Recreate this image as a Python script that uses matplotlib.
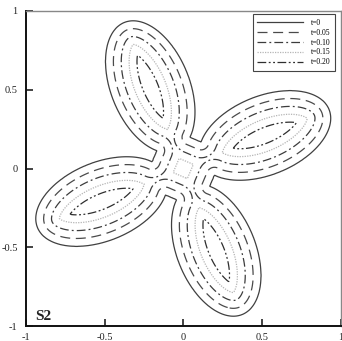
import numpy as np
import matplotlib
matplotlib.use("Agg")
import matplotlib.pyplot as plt
from matplotlib.lines import Line2D

# interface positions at these times (front moves inward at unit speed)
times = [0.0, 0.05, 0.10, 0.15, 0.20]
labels = ["t=0", "t=0.05", "t=0.10", "t=0.15", "t=0.20"]
styles = ["-", (0, (8, 4.5)), (0, (7, 2.5, 1.5, 2.5)), (0, (1, 1)), (0, (7, 2, 1.5, 2, 1.5, 2))]
colors = ["#404040", "#4a4a4a", "#3c3c3c", "#b5b5b5", "#2e2e2e"]

# initial shape: four elliptic petals joined by a square hub
petal_angles = [22, 112, 202, 292]
petal_center = 0.56
petal_semi_long = 0.44
petal_semi_short = 0.25
hub_half = 0.199   # distance from centre to hub side

ticks = [-1, -0.5, 0, 0.5, 1]
tick_labels = ["-1", "-0.5", "0", "0.5", "1"]


def to_frame(x, y, ang):
    c, s = np.cos(np.radians(ang)), np.sin(np.radians(ang))
    return x * c + y * s, -x * s + y * c


def in_petal(x, y, ang):
    s, p = to_frame(x, y, ang)
    return ((s - petal_center) / petal_semi_long) ** 2 + (p / petal_semi_short) ** 2 < 1


def in_hub(x, y):
    s, p = to_frame(x, y, petal_angles[0])
    return np.abs(s) + np.abs(p) < hub_half * np.sqrt(2)


def in_shape(x, y):
    m = in_hub(x, y)
    for ang in petal_angles:
        m = m | in_petal(x, y, ang)
    return m


def boundary_points():
    t = np.linspace(0, 2 * np.pi, 1600, endpoint=False)
    pts = []
    for ang in petal_angles:
        s = petal_center + petal_semi_long * np.cos(t)
        p = petal_semi_short * np.sin(t)
        c, sn = np.cos(np.radians(ang)), np.sin(np.radians(ang))
        x = s * c - p * sn
        y = s * sn + p * c
        keep = ~in_hub(x, y)
        for other in petal_angles:
            if other != ang:
                keep &= ~in_petal(x, y, other)
        pts.append(np.column_stack([x[keep], y[keep]]))
    # hub outline
    r = hub_half * np.sqrt(2)
    u = np.linspace(-1, 1, 200)
    s = np.concatenate([r * (1 - np.abs(u)), -r * (1 - np.abs(u))])
    p = np.concatenate([r * u, r * u])
    c, sn = np.cos(np.radians(petal_angles[0])), np.sin(np.radians(petal_angles[0]))
    x = s * c - p * sn
    y = s * sn + p * c
    keep = np.ones_like(x, dtype=bool)
    for ang in petal_angles:
        keep &= ~in_petal(x, y, ang)
    pts.append(np.column_stack([x[keep], y[keep]]))
    return np.vstack(pts)


def signed_distance(X, Y, bnd):
    g = np.column_stack([X.ravel(), Y.ravel()])
    d = np.empty(len(g))
    step = 4000
    for i in range(0, len(g), step):
        diff = g[i:i + step, None, :] - bnd[None, :, :]
        d[i:i + step] = np.sqrt((diff ** 2).sum(-1)).min(1)
    d = d.reshape(X.shape)
    return np.where(in_shape(X, Y), -d, d)


xs = np.linspace(-1, 1, 341)
X, Y = np.meshgrid(xs, xs)
phi = signed_distance(X, Y, boundary_points())

plt.rcParams["font.family"] = ["Liberation Serif", "DejaVu Serif"]

fig = plt.figure(figsize=(3.42, 3.41), dpi=100)
ax = fig.add_axes([26 / 342, 15 / 341, 314.5 / 342, 315 / 341])

for t, ls, col in zip(times, styles, colors):
    ax.contour(X, Y, phi, levels=[-t], colors=[col], linewidths=0.9, linestyles=[ls])

ax.set_xlim(-1, 1)
ax.set_ylim(-1, 1)
ax.set_xticks(ticks)
ax.set_xticklabels(tick_labels)
ax.set_yticks(ticks)
ax.set_yticklabels(tick_labels)
ax.tick_params(direction="in", length=5, width=1.2, labelsize=7.5, colors="#222222")
ax.tick_params(axis="x", pad=5)
ax.tick_params(axis="y", pad=6)
for side in ["left", "bottom"]:
    ax.spines[side].set_linewidth(1.4)
    ax.spines[side].set_color("#111111")
for side in ["top", "right"]:
    ax.spines[side].set_linewidth(1.0)
    ax.spines[side].set_color("#888888")

handles = [Line2D([], [], color=c, lw=0.9, ls=ls) for ls, c in zip(styles, colors)]
leg = ax.legend(handles, labels, loc="upper right", fontsize=5.5, handlelength=6,
                handletextpad=1.0, labelspacing=0.25, borderpad=0.6,
                fancybox=False, framealpha=1, edgecolor="#444444",
                bbox_to_anchor=(0.982, 0.99), borderaxespad=0)
leg.get_frame().set_linewidth(0.8)

ax.text(-0.94, -0.963, "S2", fontsize=11, fontweight="bold", color="#222222", va="baseline")

fig.savefig("out.png", dpi=100)
